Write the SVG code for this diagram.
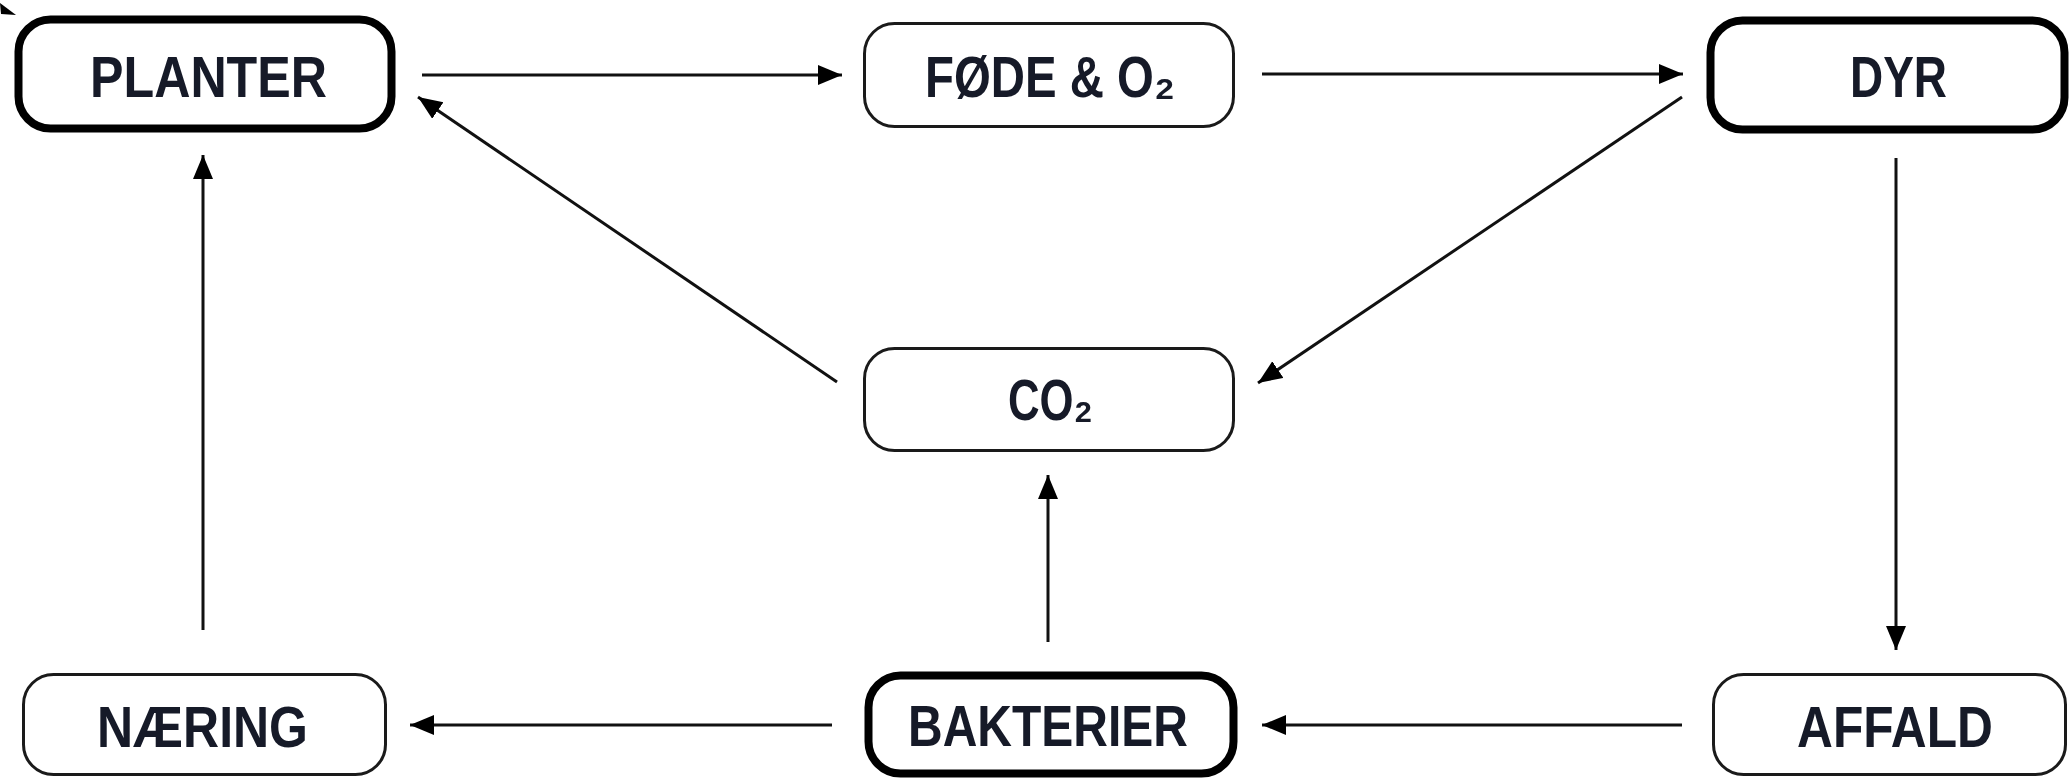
<svg xmlns="http://www.w3.org/2000/svg" width="2069" height="778" viewBox="0 0 2069 778">
  <style>
    .thick { fill: #ffffff; stroke: #000000; stroke-width: 8; }
    .thin { fill: #ffffff; stroke: #1a1a1a; stroke-width: 3; }
    .lbl { font-family: "Liberation Sans", Arial, sans-serif; font-weight: bold; font-size: 58px; fill: #161a28; }
    .conn line { stroke: #111111; stroke-width: 3; marker-end: url(#arrow); }
  </style>
  <defs>
    <marker id="arrow" markerUnits="userSpaceOnUse" markerWidth="26" markerHeight="22" refX="24" refY="10" orient="auto">
      <path d="M0,0 L24,10 L0,20 z" fill="#000000"/>
    </marker>
  </defs>
  <rect width="2069" height="778" fill="#ffffff"/>
  <polygon points="0,3 16,15 1,14" fill="#000000"/>

  <g id="planter">
    <rect class="thick" x="18.5" y="19.5" width="373" height="109" rx="32"/>
    <text class="lbl" x="90" y="97" textLength="237" lengthAdjust="spacingAndGlyphs">PLANTER</text>
  </g>
  <g id="fode">
    <rect class="thin" x="864.5" y="23.5" width="369" height="103" rx="30"/>
    <text class="lbl" x="925" y="97" textLength="250" lengthAdjust="spacingAndGlyphs">FØDE &amp; O₂</text>
  </g>
  <g id="dyr">
    <rect class="thick" x="1710.5" y="20.5" width="354" height="109" rx="32"/>
    <text class="lbl" x="1850" y="97" textLength="97" lengthAdjust="spacingAndGlyphs">DYR</text>
  </g>
  <g id="co2">
    <rect class="thin" x="864.5" y="348.5" width="369" height="102" rx="30"/>
    <text class="lbl" x="1008" y="420" textLength="85" lengthAdjust="spacingAndGlyphs">CO₂</text>
  </g>
  <g id="naering">
    <rect class="thin" x="23.5" y="674.5" width="362" height="100" rx="30"/>
    <text class="lbl" x="97" y="747" textLength="211" lengthAdjust="spacingAndGlyphs">NÆRING</text>
  </g>
  <g id="bakterier">
    <rect class="thick" x="868.5" y="675.5" width="365" height="98" rx="32"/>
    <text class="lbl" x="908" y="746" textLength="280" lengthAdjust="spacingAndGlyphs">BAKTERIER</text>
  </g>
  <g id="affald">
    <rect class="thin" x="1713.5" y="674.5" width="352" height="100" rx="30"/>
    <text class="lbl" x="1797" y="747" textLength="196" lengthAdjust="spacingAndGlyphs">AFFALD</text>
  </g>

  <g id="connectors" class="conn">
    <line x1="422" y1="75" x2="842" y2="75"/>
    <line x1="1262" y1="74" x2="1683" y2="74"/>
    <line x1="1682" y1="97" x2="1258" y2="383"/>
    <line x1="837" y1="382" x2="418" y2="97"/>
    <line x1="203" y1="630" x2="203" y2="155"/>
    <line x1="1896" y1="158" x2="1896" y2="650"/>
    <line x1="1682" y1="725" x2="1262" y2="725"/>
    <line x1="832" y1="725" x2="410" y2="725"/>
    <line x1="1048" y1="642" x2="1048" y2="475"/>
  </g>
</svg>
